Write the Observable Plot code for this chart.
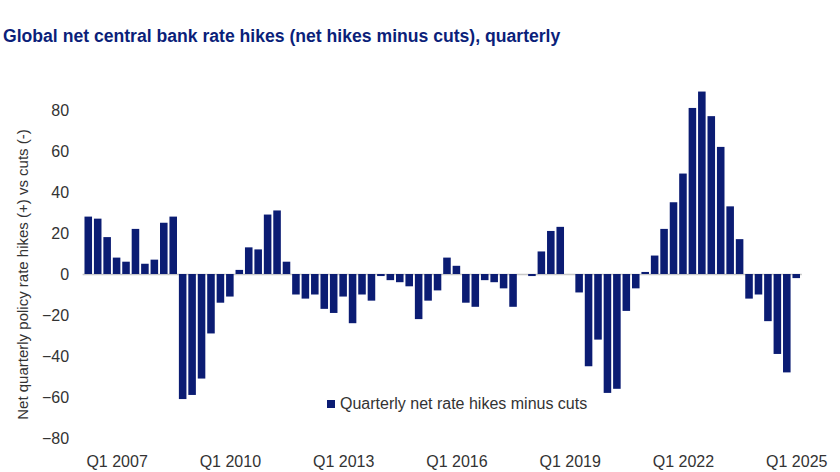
<!DOCTYPE html>
<html>
<head>
<meta charset="utf-8">
<script src="https://cdn.jsdelivr.net/npm/d3@7"></script>
<script src="https://cdn.jsdelivr.net/npm/@observablehq/plot@0.6"></script>
<style>
  html, body { margin: 0; padding: 0; background: #fff; }
  #wrap { position: relative; width: 840px; height: 472px; overflow: hidden; }
  #title { position: absolute; left: 3px; top: 26px; font-family: "Liberation Sans", Arial, sans-serif; font-weight: bold; font-size: 17.6px; color: #0b1f7a; white-space: nowrap; }
  #chart { position: absolute; left: 0; top: 60px; }
  #legend { position: absolute; left: 327px; top: 395px; font-family: "Liberation Sans", Arial, sans-serif; font-size: 16px; color: #333; white-space: nowrap; display: flex; align-items: center; }
  #legend .sw { width: 8px; height: 8px; background: #0b1c73; margin-right: 5px; }
</style>
</head>
<body>
<div id="wrap">
  <div id="title">Global net central bank rate hikes (net hikes minus cuts), quarterly</div>
  <div id="chart"></div>
  <div id="legend"><span class="sw"></span><span>Quarterly net rate hikes minus cuts</span></div>
</div>
<script>
const quarters = [
  "Q2 2006","Q3 2006","Q4 2006",
  "Q1 2007","Q2 2007","Q3 2007","Q4 2007",
  "Q1 2008","Q2 2008","Q3 2008","Q4 2008",
  "Q1 2009","Q2 2009","Q3 2009","Q4 2009",
  "Q1 2010","Q2 2010","Q3 2010","Q4 2010",
  "Q1 2011","Q2 2011","Q3 2011","Q4 2011",
  "Q1 2012","Q2 2012","Q3 2012","Q4 2012",
  "Q1 2013","Q2 2013","Q3 2013","Q4 2013",
  "Q1 2014","Q2 2014","Q3 2014","Q4 2014",
  "Q1 2015","Q2 2015","Q3 2015","Q4 2015",
  "Q1 2016","Q2 2016","Q3 2016","Q4 2016",
  "Q1 2017","Q2 2017","Q3 2017","Q4 2017",
  "Q1 2018","Q2 2018","Q3 2018","Q4 2018",
  "Q1 2019","Q2 2019","Q3 2019","Q4 2019",
  "Q1 2020","Q2 2020","Q3 2020","Q4 2020",
  "Q1 2021","Q2 2021","Q3 2021","Q4 2021",
  "Q1 2022","Q2 2022","Q3 2022","Q4 2022",
  "Q1 2023","Q2 2023","Q3 2023","Q4 2023",
  "Q1 2024","Q2 2024","Q3 2024","Q4 2024",
  "Q1 2025"
];
const netHikes = [
  28, 27, 18,
  8, 6, 22, 5,
  7, 25, 28, -61,
  -59, -51, -29, -14,
  -11, 2, 13, 12,
  29, 31, 6, -10,
  -12, -10, -17, -19,
  -11, -24, -10, -13,
  -1, -3, -4, -6,
  -22, -13, -8, 8,
  4, -14, -16, -3,
  -4, -7, -16, 0,
  -1, 11, 21, 23,
  0, -9, -45, -32,
  -58, -56, -18, -7,
  1, 9, 22, 35,
  49, 81, 89, 77,
  62, 33, 17, -12,
  -10, -23, -39, -48,
  -2
];
const xTickLabels = ["Q1 2007","Q1 2010","Q1 2013","Q1 2016","Q1 2019","Q1 2022","Q1 2025"];
const yTicks = [-80, -60, -40, -20, 0, 20, 40, 60, 80];

const data = quarters.map((q, i) => ({quarter: q, value: netHikes[i]}));
const font = "'Liberation Sans', Arial, sans-serif";

const chart = Plot.plot({
  width: 840,
  height: 412,
  marginLeft: 82.6,
  marginRight: 38.1,
  marginTop: 50,
  marginBottom: 34,
  style: {fontFamily: font, fontSize: "16px", color: "#333", background: "transparent"},
  x: {type: "band", domain: quarters, padding: 0.2},
  y: {domain: [-80, 80]},
  marks: [
    Plot.ruleY([0], {stroke: "#c8c8c8", strokeWidth: 1.5}),
    Plot.barY(data, {x: "quarter", y: "value", fill: "#0b1c73"}),
    Plot.axisX({ticks: xTickLabels, tickSize: 0, tickPadding: 17, label: null, fontSize: 16, fill: "#333"}),
    Plot.axisY({ticks: yTicks, tickSize: 0, tickPadding: 14, fontSize: 16, fill: "#333", label: null}),
    Plot.axisY({ticks: [], tickSize: 0, fontSize: 15, fill: "#333",
      label: "Net quarterly policy rate hikes (+) vs cuts (-)", labelAnchor: "center", labelArrow: "none", labelOffset: 66})
  ]
});
document.getElementById("chart").appendChild(chart);
</script>
</body>
</html>
